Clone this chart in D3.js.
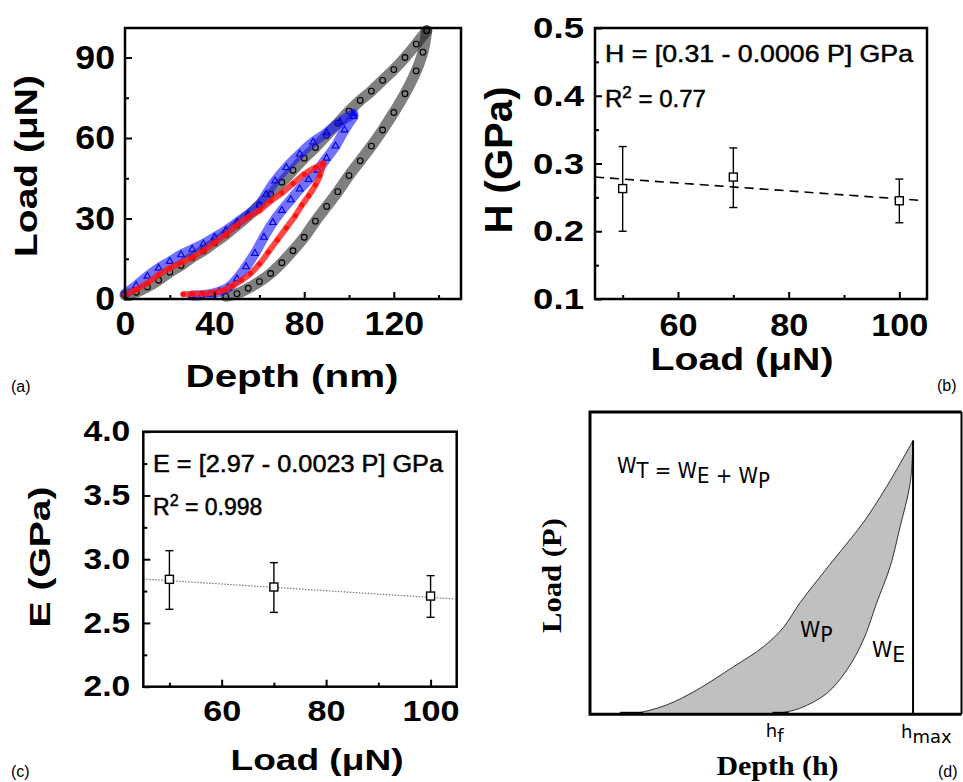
<!DOCTYPE html>
<html lang="en">
<head>
<meta charset="UTF-8">
<title>Nanoindentation</title>
<script src="https://d3js.org/d3.v7.min.js"></script>
<style>
  body { margin: 0; background: #fff; }
  svg text { font-family: "Liberation Sans", Arial, sans-serif; }
</style>
</head>
<body>
<svg width="963" height="782"></svg>
<script>
// ---------- (a) load-depth scatter, [depth nm, load uN]
const blackLoading = [[0,1.5],[5,2.5],[10,4.5],[15,7],[20,10],[25,12.5],[30,15.5],[35,18],[40,21],[45,24],[50,27.5],[55,31],[60,35],[65,39],[70,43.5],[75,48],[80,52.5],[85,56.5],[90,61],[95,65.5],[100,70],[105,74],[110,77.5],[115,81.5],[120,85.5],[125,90],[130,95],[134.7,100]];
const blackUnloading = [[134.7,100],[133,92],[130,85],[125,76.5],[120,69.5],[115,63],[110,57],[105,51.5],[100,46],[95,40],[90,34.5],[85,29],[80,23],[75,18],[70,13.5],[65,9.5],[60,6.5],[55,4],[50,2],[45,1]];
const blueLoading = [[0,2],[5,5],[10,8.5],[15,11.5],[20,14],[25,16.5],[30,18.5],[35,20.5],[40,23],[45,25.5],[50,28.5],[55,31.5],[60,35],[63,39],[67,44],[72,49],[78,54],[84,58.5],[90,62],[96,66],[102,69]];
const blueUnloading = [[102,68],[98,63],[94,57],[90,52.5],[86,48],[82,44.5],[78,41],[74,37],[70,33],[66,28.5],[62,23],[58,17],[54,12],[50,7.5],[46,4.2],[42,2.7],[38,1.8],[34,1.4],[30,1.3]];
const redLoading = [[0,1.5],[5,3.5],[10,6],[15,9],[20,11.5],[25,13.5],[30,15.5],[35,18],[40,21],[45,24],[50,27.5],[55,30.5],[60,33],[65,36.5],[70,39.5],[75,43],[80,46.5],[85,49],[88.5,50.5]];
const redUnloading = [[88.5,50.5],[87,46],[85,42.5],[82,38.5],[79,35],[76,31],[72,26.5],[68,22],[64,17.5],[60,13],[56,9.5],[52,7],[48,5],[44,3.2],[40,2.4],[35,2],[30,1.9],[26,1.8]];
const aDepthTicks = [0, 40, 80, 120];
const aDepthMinor = [20, 60, 100, 140];
const aLoadTicks = [0, 30, 60, 90];
const aLoadMinor = [15, 45, 75];

// ---------- (b) hardness vs load
const peakLoads = [50, 70, 100];
const hardness = [0.263, 0.280, 0.245];
const hardnessHi = [0.325, 0.323, 0.277];
const hardnessLo = [0.200, 0.235, 0.2125];
const hFitLoad = [45, 104];
const hFitValue = [0.280, 0.2455];
const bLoadTicks = [60, 80, 100];
const bLoadMinor = [50, 70, 90];
const hTicks = [0.1, 0.2, 0.3, 0.4, 0.5];
const hMinor = [0.15, 0.25, 0.35, 0.45];

// ---------- (c) modulus vs load
const modulus = [2.842, 2.782, 2.711];
const modulusHi = [3.067, 2.973, 2.871];
const modulusLo = [2.607, 2.583, 2.544];
const eFitLoad = [45, 104.7];
const eFitValue = [2.845, 2.688];
const eTicks = [2.0, 2.5, 3.0, 3.5, 4.0];
const eMinor = [2.25, 2.75, 3.25, 3.75];

// ---------- (d) schematic curve, arbitrary units (h_max = 100)
const schemLoading = [[9.3,0],[14.4,0.4],[23.7,3.4],[33,8.8],[44.4,17.3],[53.7,24.6],[59.8,31.5],[65,40.6],[71.2,50],[77.4,59.1],[84.6,69.8],[91.8,82.8],[100,99.6]];
const schemUnloading = [[100,99.6],[99.1,84],[96,68.3],[92.9,53.7],[88.7,40.4],[84.6,27],[79.5,16.1],[73.3,7.6],[65,2.2],[58.8,0.4],[56.7,0]];
const hMax = 100, hF = 57.5;

const svg = d3.select("svg");

function fitText(sel, len) {
  sel.attr("textLength", len).attr("lengthAdjust", "spacingAndGlyphs");
}
function stretch(sel, k) {
  sel.each(function () {
    const w = this.getComputedTextLength();
    d3.select(this).attr("textLength", w * k).attr("lengthAdjust", "spacingAndGlyphs");
  });
}

// box + inward ticks
function frame(x, y, o) {
  const [x0, x1] = x.range(), [y0, y1] = y.range();
  const g = svg.append("g");
  const style = (a, size, k) => {
    a.select(".domain").remove();
    a.attr("font-size", null).attr("font-family", null);
    a.selectAll("line").attr("stroke", "#000").attr("stroke-width", 2);
    const t = a.selectAll("text").attr("font-size", size).attr("font-weight", "bold").attr("fill", "#000");
    stretch(t, k);
  };
  g.append("g").attr("transform", `translate(0,${y0})`)
    .call(d3.axisBottom(x).tickValues(o.xMinor).tickSize(-4).tickFormat(""))
    .call(a => style(a, 10, 1));
  g.append("g").attr("transform", `translate(0,${y0})`)
    .call(d3.axisBottom(x).tickValues(o.xTicks).tickSize(-7).tickPadding(o.xPad).tickFormat(o.xFmt))
    .call(a => style(a, o.xSize, o.xK));
  g.append("g").attr("transform", `translate(${x0},0)`)
    .call(d3.axisLeft(y).tickValues(o.yMinor).tickSize(-4).tickFormat(""))
    .call(a => style(a, 10, 1));
  g.append("g").attr("transform", `translate(${x0},0)`)
    .call(d3.axisLeft(y).tickValues(o.yTicks).tickSize(-7).tickPadding(o.yPad).tickFormat(o.yFmt))
    .call(a => style(a, o.ySize, o.yK));
  g.append("rect").attr("x", x0).attr("y", y1).attr("width", x1 - x0).attr("height", y0 - y1)
    .attr("fill", "none").attr("stroke", "#000").attr("stroke-width", 2.5);
}

function title(x, y, txt, size, len, rot, family) {
  const t = svg.append("text")
    .attr("transform", `translate(${x},${y})` + (rot ? " rotate(-90)" : ""))
    .attr("text-anchor", "middle").attr("font-size", size).attr("font-weight", "bold")
    .text(txt);
  if (family) t.style("font-family", family);
  fitText(t, len);
  return t;
}

function panelLabel(x, y, txt) {
  svg.append("text").attr("x", x).attr("y", y).attr("font-size", 16).text(txt);
}

// ================= (a)
const xa = d3.scaleLinear().domain([0, 150]).range([125, 461]);
const ya = d3.scaleLinear().domain([0, 101]).range([299, 28]);
const lineA = d3.line().x(d => xa(d[0])).y(d => ya(d[1])).curve(d3.curveCatmullRom);
const sets = [
  { data: [blackLoading, blackUnloading], color: "#151515", band: 0.55, w: 11, sym: d3.symbolCircle, size: 26, fill: "none", ms: "#000" },
  { data: [blueLoading, blueUnloading], color: "#1414ff", band: 0.6, w: 10, sym: d3.symbolTriangle, size: 20, fill: "none", ms: "#0000e0" },
  { data: [redLoading, redUnloading], color: "#ff1a1a", band: 0.8, w: 6, sym: d3.symbolCircle, size: 12, fill: "#ff1010", ms: "#ff1010" }
];
const plotA = svg.append("g");
sets.forEach(s => {
  s.data.forEach(branch => {
    plotA.append("path").attr("d", lineA(branch)).attr("fill", "none")
      .attr("stroke", s.color).attr("stroke-opacity", s.band)
      .attr("stroke-width", s.w).attr("stroke-linecap", "round");
    plotA.selectAll(null).data(branch).join("path")
      .attr("transform", d => `translate(${xa(d[0])},${ya(d[1])})`)
      .attr("d", d3.symbol(s.sym, s.size))
      .attr("fill", s.fill).attr("stroke", s.ms).attr("stroke-width", 1.1);
  });
});
frame(xa, ya, {
  xTicks: aDepthTicks, xMinor: aDepthMinor, xPad: 13, xSize: 33, xK: 1.08, xFmt: d3.format("d"),
  yTicks: aLoadTicks, yMinor: aLoadMinor, yPad: 10, ySize: 33, yK: 1.08, yFmt: d3.format("d")
});
title(292, 387, "Depth (nm)", 31, 213);
title(37, 166, "Load (\u03bcN)", 31, 182, true);
panelLabel(11, 392, "(a)");

// ================= (b)
const xb = d3.scaleLinear().domain([45, 105]).range([595, 927]);
const yb = d3.scaleLinear().domain([0.1, 0.5]).range([299, 28]);
function errPlot(x, y, vals, hi, lo, fitX, fitY, dash, fitColor, fitW) {
  const g = svg.append("g");
  g.append("path")
    .attr("d", d3.line().x(d => x(d[0])).y(d => y(d[1]))(fitX.map((v, i) => [v, fitY[i]])))
    .attr("stroke", fitColor).attr("stroke-width", fitW).attr("stroke-dasharray", dash).attr("fill", "none");
  peakLoads.forEach((p, i) => {
    const cx = x(p);
    g.append("line").attr("x1", cx).attr("x2", cx).attr("y1", y(hi[i])).attr("y2", y(lo[i]))
      .attr("stroke", "#000").attr("stroke-width", 1.4);
    [hi[i], lo[i]].forEach(v => g.append("line").attr("x1", cx - 4).attr("x2", cx + 4)
      .attr("y1", y(v)).attr("y2", y(v)).attr("stroke", "#000").attr("stroke-width", 1.4));
    g.append("rect").attr("x", cx - 4).attr("y", y(vals[i]) - 4).attr("width", 8).attr("height", 8)
      .attr("fill", "#fff").attr("stroke", "#000").attr("stroke-width", 1.4);
  });
}
errPlot(xb, yb, hardness, hardnessHi, hardnessLo, hFitLoad, hFitValue, "9,6", "#000", 1.6);
frame(xb, yb, {
  xTicks: bLoadTicks, xMinor: bLoadMinor, xPad: 14, xSize: 32, xK: 1.07, xFmt: d3.format("d"),
  yTicks: hTicks, yMinor: hMinor, yPad: 11, ySize: 30, yK: 1.22, yFmt: d3.format(".1f")
});
const eqB = svg.append("text").attr("x", 605).attr("y", 62).attr("font-size", 24)
  .attr("stroke", "#000").attr("stroke-width", 0.5).text("H = [0.31 - 0.0006 P] GPa");
fitText(eqB, 308);
const r2B = svg.append("text").attr("x", 605).attr("y", 107).attr("font-size", 24)
  .attr("stroke", "#000").attr("stroke-width", 0.5);
r2B.append("tspan").text("R");
r2B.append("tspan").attr("dy", -9).attr("font-size", 17).text("2");
r2B.append("tspan").attr("dy", 9).text(" = 0.77");
title(742, 370, "Load (\u03bcN)", 32, 183);
title(512, 160, "H (GPa)", 38, 147, true);
panelLabel(937, 391, "(b)");

// ================= (c)
const xc = d3.scaleLinear().domain([45, 105]).range([143.3, 456.7]);
const yc = d3.scaleLinear().domain([2, 4]).range([686.7, 431.7]);
errPlot(xc, yc, modulus, modulusHi, modulusLo, eFitLoad, eFitValue, "1.5,1.5", "#777", 1.2);
frame(xc, yc, {
  xTicks: bLoadTicks, xMinor: bLoadMinor, xPad: 13, xSize: 30, xK: 1.14, xFmt: d3.format("d"),
  yTicks: eTicks, yMinor: eMinor, yPad: 13, ySize: 29, yK: 1.16, yFmt: d3.format(".1f")
});
const eqC = svg.append("text").attr("x", 153).attr("y", 472).attr("font-size", 23)
  .attr("stroke", "#000").attr("stroke-width", 0.5).text("E = [2.97 - 0.0023 P] GPa");
fitText(eqC, 290);
const r2C = svg.append("text").attr("x", 153).attr("y", 515).attr("font-size", 23)
  .attr("stroke", "#000").attr("stroke-width", 0.5);
r2C.append("tspan").text("R");
r2C.append("tspan").attr("dy", -9).attr("font-size", 16).text("2");
r2C.append("tspan").attr("dy", 9).text(" = 0.998");
title(317, 770, "Load (\u03bcN)", 30, 173);
title(50, 557, "E (GPa)", 30, 141, true);
panelLabel(11, 777, "(c)");

// ================= (d)
const xd = d3.scaleLinear().domain([0, 115]).range([590, 961.5]);
const yd = d3.scaleLinear().domain([0, 110]).range([714.3, 412]);
const lineD = d3.line().x(d => xd(d[0])).y(d => yd(d[1])).curve(d3.curveCatmullRom);
const loopPath = lineD(schemLoading) + "L" + lineD(schemUnloading).slice(1) + "Z";
svg.append("path").attr("d", loopPath).attr("fill", "#c0c0c0").attr("stroke", "#333").attr("stroke-width", 1);
svg.append("line").attr("x1", xd(hMax)).attr("x2", xd(hMax))
  .attr("y1", yd(schemLoading[schemLoading.length - 1][1])).attr("y2", yd(0))
  .attr("stroke", "#000").attr("stroke-width", 2);
svg.append("path")
  .attr("d", `M${xd(115)},${yd(110)}H${xd(0)}V${yd(0)}H${xd(115)}`)
  .attr("fill", "none").attr("stroke", "#000").attr("stroke-width", 3);
svg.append("line").attr("x1", xd(115)).attr("x2", xd(115)).attr("y1", yd(110)).attr("y2", yd(0))
  .attr("stroke", "#000").attr("stroke-width", 2);
// darker stubs where both curves meet the depth axis
[[schemLoading[0][0], schemLoading[1][0] + 2], [hF - 1, hF + 4]].forEach(([a, b]) =>
  svg.append("line").attr("x1", xd(a)).attr("x2", xd(b)).attr("y1", yd(0) - 1.5).attr("y2", yd(0) - 1.5)
    .attr("stroke", "#000").attr("stroke-width", 2));

function subText(x, y, parts, size, family, len) {
  const t = svg.append("text").attr("x", x).attr("y", y).attr("font-size", size);
  if (family) t.style("font-family", family);
  parts.forEach(([s, sub]) => {
    t.append("tspan").attr("dy", sub ? 5 : 0).text(s);
    if (sub) t.append("tspan").attr("dy", -5).text("");
  });
  if (len) fitText(t, len);
  return t;
}
const dv = "'DejaVu Sans', Verdana, sans-serif";
subText(617, 473, [["W"], ["T", 1], [" = W"], ["E", 1], [" + W"], ["P", 1]], 20.5, dv, 153);
subText(800, 637, [["W"], ["P", 1]], 20.5, dv);
subText(872, 657, [["W"], ["E", 1]], 20.5, dv);
subText(xd(hF) - 10, 737, [["h"], ["f", 1]], 18, dv);
subText(xd(hMax) - 12, 738, [["h"], ["max", 1]], 18, dv);
title(777.5, 775, "Depth (h)", 27, 122, false, "'Liberation Serif', 'Times New Roman', serif");
title(561, 575.5, "Load (P)", 28, 115, true, "'Liberation Serif', 'Times New Roman', serif");
panelLabel(938, 777, "(d)");
</script>
</body>
</html>
